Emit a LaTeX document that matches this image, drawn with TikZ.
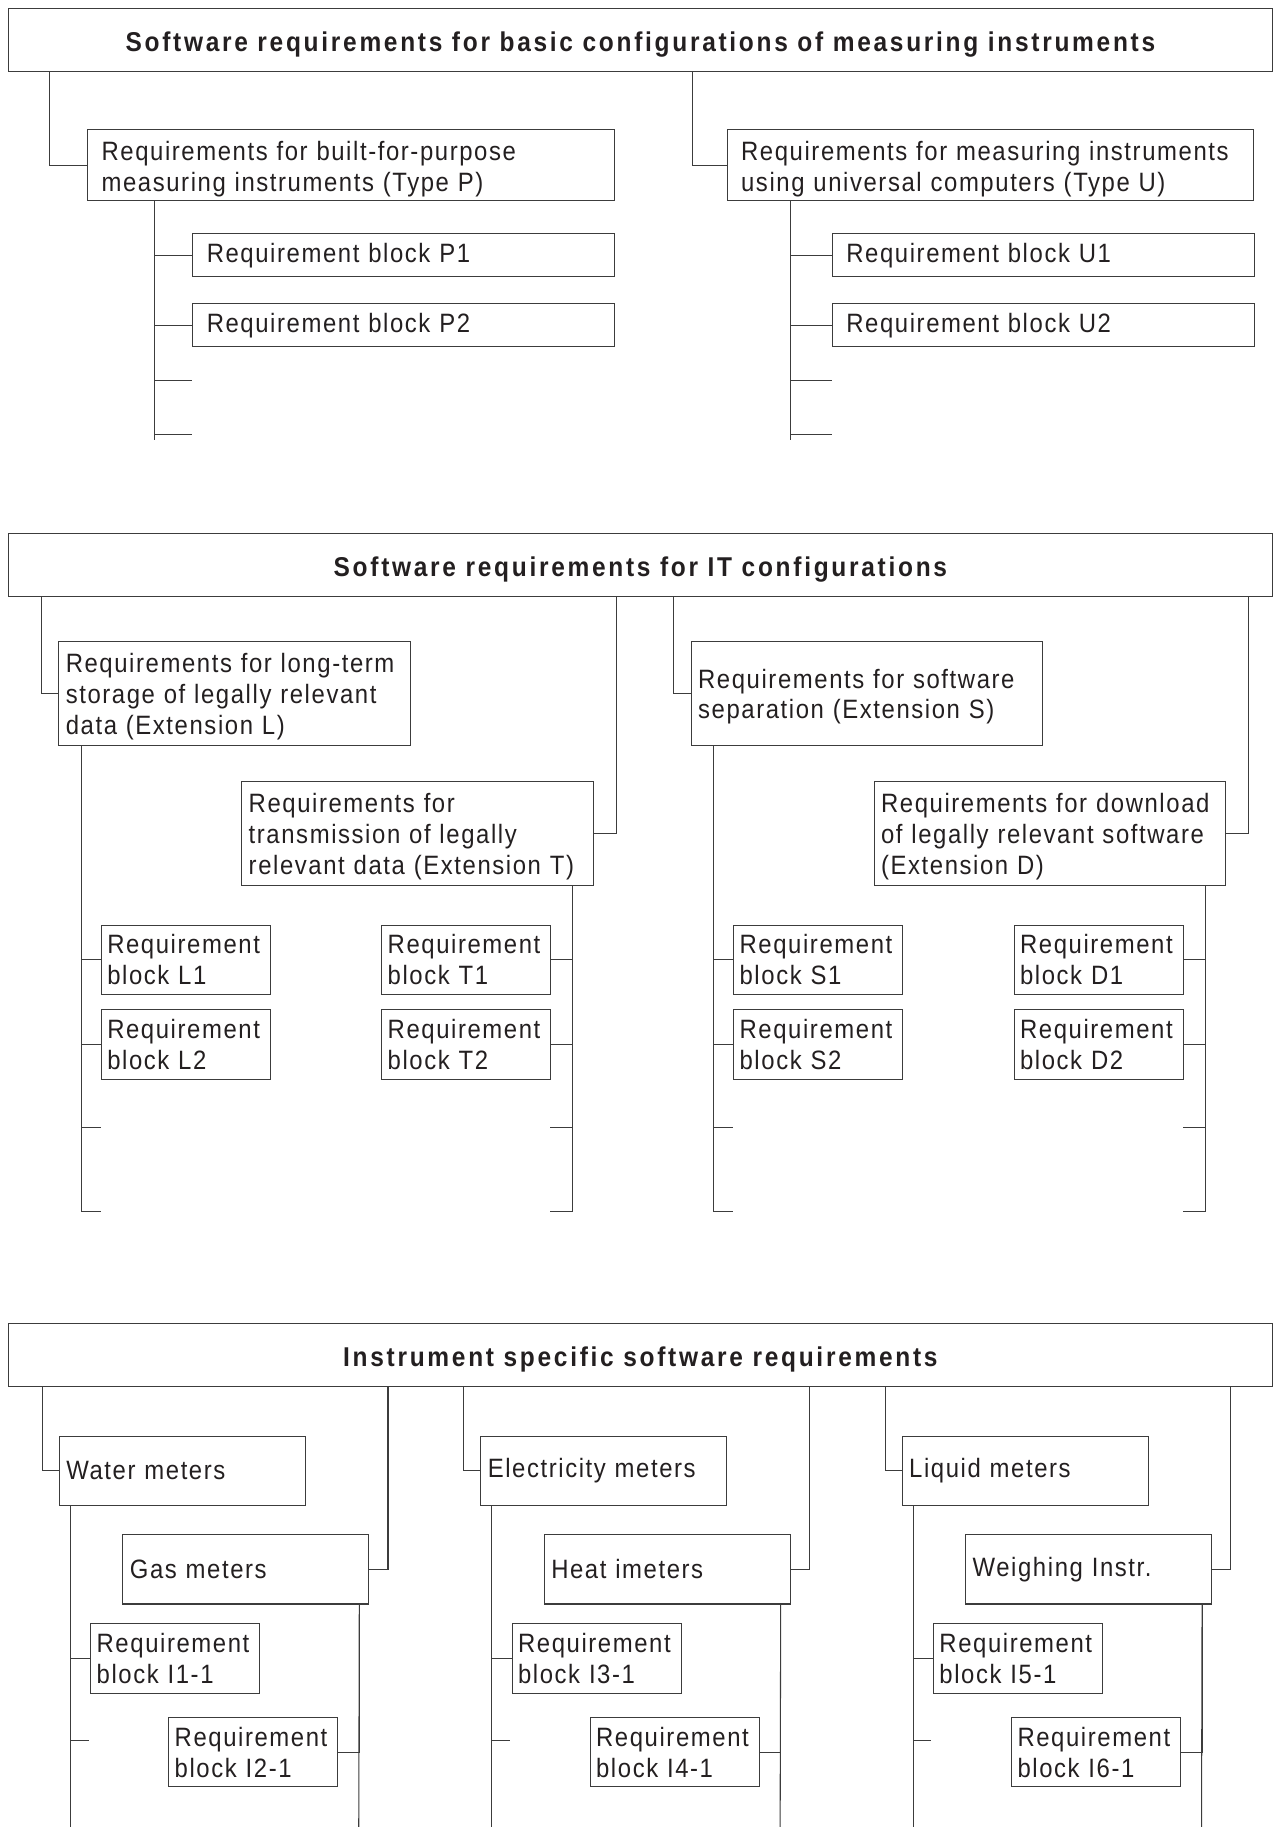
\documentclass[tikz,border=0pt]{standalone}
\usepackage{fontspec}
\setmainfont{Liberation Sans}[FakeStretch=0.9,LetterSpace=6]
\usetikzlibrary{calc}
\definecolor{ink}{RGB}{35,31,32}
\definecolor{rule}{RGB}{60,60,60}
\newcommand\boxfont{\fontsize{16.2}{18.85}\selectfont}
\tikzset{
  head/.style={draw=rule,anchor=north west,minimum width=27.125cm,minimum height=1.35cm,
    inner sep=0pt,text height=14pt,text depth=0pt,text=ink,
    font=\fontsize{16.6}{19}\selectfont\bfseries\addfontfeature{LetterSpace=10}},
  grp/.style={draw=rule,anchor=north west,align=left,inner xsep=0.3cm,inner ysep=0pt,
    text width=10.7cm,minimum height=1.52cm,font=\boxfont,text=ink,
    execute at begin node={\rule{0pt}{16.5pt}}},
  blk/.style={draw=rule,anchor=north west,align=left,inner xsep=0.3cm,inner ysep=0pt,
    text width=8.445cm,minimum height=0.91cm,font=\boxfont,text=ink},
  ext/.style={draw=rule,anchor=north west,align=left,inner xsep=0.15cm,inner ysep=0pt,
    text width=7.24cm,minimum height=2.24cm,font=\boxfont,text=ink,
    execute at begin node={\rule{0pt}{15.5pt}}},
  req/.style={draw=rule,anchor=north west,align=left,inner xsep=0.125cm,inner ysep=0pt,
    text width=3.375cm,minimum height=1.49cm,font=\boxfont,text=ink},
  mtr/.style={draw=rule,anchor=north west,align=left,inner xsep=0.15cm,inner ysep=0pt,
    text width=4.975cm,minimum height=1.49cm,font=\boxfont,text=ink},
  tie/.style={draw=rule,line width=0.65pt},
}

\begin{document}
\begin{tikzpicture}[x=0.025cm,y=-0.025cm,line width=0.65pt]
\useasboundingbox (0,0) rectangle (1093,1568);
% basic configurations
\node[head] (base) at (6.5,6.5)
  {Software requirements for basic configurations of measuring instruments};
\node[grp] (tp) at (74.7,111) {Requirements for built-for-purpose\\measuring instruments (Type P)};
\node[grp] (tu) at (623.6,111) {Requirements for measuring instruments\\using universal computers (Type U)};
\draw[tie] ($(base.south west)+(35.9,0)$) |- (tp.west);
\draw[tie] ($(base.south west)+(587.5,0)$) |- (tu.west);
\foreach \s/\S/\x/\d in {p/P/74.7/58.1,u/U/623.6/55.2}{
  \node[blk] (\s1) at (\x+90.3,200.3) {Requirement block \S1};
  \node[blk] (\s2) at (\x+90.3,260.4) {Requirement block \S2};
  \coordinate (\s0) at ($(t\s.south west)+(\d,0)$);
  \coordinate (\s3) at (\x+90.3,326.3);
  \coordinate (\s4) at (\x+90.3,372.9);
  \coordinate (\s5) at ($(\s0)+(0,204.5)$);
  \draw[tie] (\s0) |- (\s1.west);
  \draw[tie] (\s0) |- (\s2.west);
  \draw[tie] (\s0) |- (\s3);
  \draw[tie] (\s0) |- (\s4);
  \draw[tie] (\s0) -- (\s5);
}
% IT configurations
\node[head] (it) at (6.5,457.5) {Software requirements for IT configurations};
\node[ext] (xl) at (50,550) {Requirements for long-term\\storage of legally relevant\\data (Extension L)};
\node[ext] (xs) at (592.7,550) {Requirements for software\\separation (Extension S)};
\node[ext] (xt) at (207,670) {Requirements for\\transmission of legally\\relevant data (Extension T)};
\node[ext] (xd) at (749.7,670) {Requirements for download\\of legally relevant software\\(Extension D)};
\foreach \a/\A/\b/\B/\x in {l/L/t/T/0,s/S/d/D/542.7}{
  \node[req] (\a1) at (\x+86.6,793.5) {Requirement\\block \A1};
  \node[req] (\a2) at (\x+86.6,866) {Requirement\\block \A2};
  \node[req] (\b1) at (\x+327.3,793.5) {Requirement\\block \B1};
  \node[req] (\b2) at (\x+327.3,866) {Requirement\\block \B2};
  \draw[tie] ($(it.south west)+(\x+29.2,0)$) |- (x\a.west);
  \draw[tie] ($(it.south west)+(\x+522.5,0)$) |- (x\b.east);
  \coordinate (\a0) at ($(x\a.south west)+(19.7,0)$);
  \coordinate (\b0) at ($(x\b.south east)+(-17.9,0)$);
  \coordinate (\a3) at (\x+86.6,967.5);
  \coordinate (\a4) at (\x+86.6,1039.5);
  \coordinate (\b3) at (\x+472.4,967.5);
  \coordinate (\b4) at (\x+472.4,1039.5);
  \foreach \n in {1,2}{
    \draw[tie] (\a0) |- (\a\n.west);
    \draw[tie] (\b0) |- (\b\n.east);
  }
  \foreach \n in {3,4}{
    \draw[tie] (\a0) |- (\a\n);
    \draw[tie] (\b0) |- (\b\n);
  }
}
% instrument specific
\node[head] (spec) at (6.5,1135.5) {Instrument specific software requirements};
\foreach \k/\ta/\tb/\ia/\ib in {0/Water meters/Gas meters/1/2,
    1/Electricity meters/Heat imeters/3/4,2/Liquid meters/Weighing Instr./5/6}{
  \node[mtr] (m\k) at (\k*361.65+50.5,1232) {\ta};
  \node[mtr] (n\k) at (\k*361.65+105,1316.5) {\tb};
  \node[req] (r\ia) at (\k*361.65+77.5,1393) {Requirement\\block I\ia-1};
  \node[req] (r\ib) at (\k*361.65+144.5,1473.5) {Requirement\\block I\ib-1};
  \draw[tie] ($(spec.south west)+(\k*361.65+29.9,0)$) |- (m\k.west);
  \draw[tie] ($(spec.south west)+(\k*361.65+326.5,0)$) |- (n\k.east);
  \coordinate (m\k a) at ($(m\k.south west)+(9.8,0)$);
  \coordinate (n\k a) at ($(n\k.south east)+(-8.6,0)$);
  \coordinate (m\k b) at (\k*361.65+76,1493.7);
  \coordinate (m\k c) at (\k*361.65+60.3,1568);
  \coordinate (n\k c) at (\k*361.65+307.9,1568);
  \draw[tie] (m\k a) |- (r\ia.west);
  \draw[tie] (m\k a) |- (m\k b);
  \draw[tie] (m\k a) -- (m\k c);
  \draw[tie] (n\k a) |- (r\ib.east);
  \draw[tie] (n\k a) -- (n\k c);
}
\end{tikzpicture}
\end{document}
